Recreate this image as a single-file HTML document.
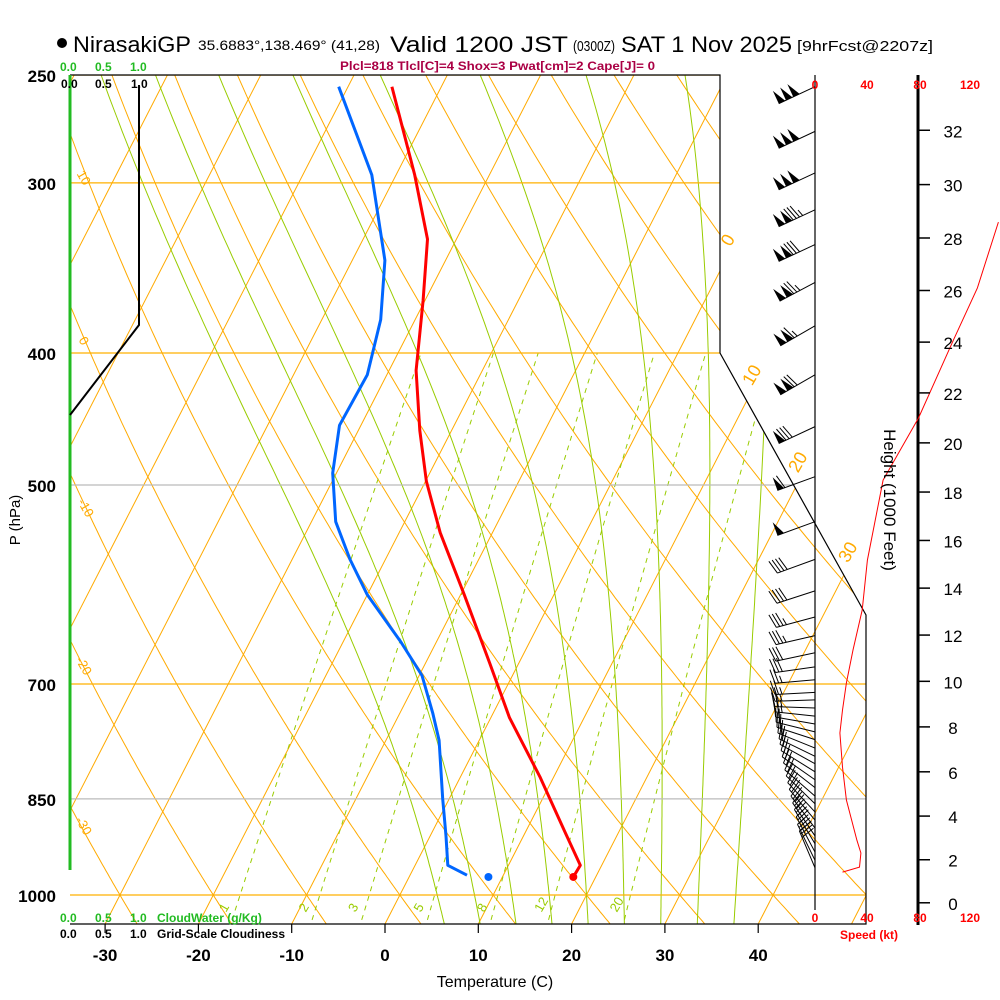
<!DOCTYPE html>
<html><head><meta charset="utf-8"><style>
html,body{margin:0;padding:0;background:#fff;}
svg{display:block;font-family:"Liberation Sans",sans-serif;}
</style></head><body>
<svg id="chart" width="1000" height="1000" viewBox="0 0 1000 1000" xmlns="http://www.w3.org/2000/svg">
<defs><clipPath id="plotClip"><polygon points="70,75 720,75 720,353 866,615 866,924 70,924"/></clipPath></defs>
<g id="grid" clip-path="url(#plotClip)"></g>
<g id="profiles" clip-path="url(#plotClip)"></g>
<g id="frame">
<polyline points="70,75 720,75 720,353 866,615 866,924 70,924" fill="none" stroke="#000" stroke-width="1.2"/>
<line x1="70" y1="75" x2="70" y2="870" stroke="#22bb22" stroke-width="3"/>
<polyline points="139,85 139,325 70,415" fill="none" stroke="#000" stroke-width="2"/>
<line x1="815" y1="75" x2="815" y2="910" stroke="#000" stroke-width="1.2"/>
<line x1="918" y1="75" x2="918" y2="925" stroke="#000" stroke-width="3"/>
</g>
<g id="barbs"></g>
<g id="speed"></g>
<g id="labels"></g>
<g>
<circle cx="62" cy="43" r="5" fill="#000"/>
<text x="73" y="52" font-size="22" textLength="118" lengthAdjust="spacingAndGlyphs">NirasakiGP</text>
<text x="198" y="50" font-size="14" textLength="182" lengthAdjust="spacingAndGlyphs">35.6883°,138.469° (41,28)</text>
<text x="390" y="52" font-size="22" textLength="178" lengthAdjust="spacingAndGlyphs">Valid 1200 JST</text>
<text x="573" y="51" font-size="15" textLength="42" lengthAdjust="spacingAndGlyphs">(0300Z)</text>
<text x="621" y="52" font-size="22" textLength="171" lengthAdjust="spacingAndGlyphs">SAT 1 Nov 2025</text>
<text x="797" y="51" font-size="15" textLength="136" lengthAdjust="spacingAndGlyphs">[9hrFcst@2207z]</text>
<text x="340" y="70" font-size="12" fill="#aa0044" font-weight="bold" textLength="315" lengthAdjust="spacingAndGlyphs">Plcl=818 Tlcl[C]=4 Shox=3 Pwat[cm]=2 Cape[J]= 0</text>
<g font-size="12" font-weight="bold" fill="#22bb22"><text x="60" y="71">0.0</text><text x="95" y="71">0.5</text><text x="130" y="71">1.0</text></g>
<g font-size="12" font-weight="bold" fill="#000"><text x="61" y="88">0.0</text><text x="95" y="88">0.5</text><text x="131" y="88">1.0</text></g>
<g font-size="12" font-weight="bold" fill="#22bb22"><text x="60" y="922">0.0</text><text x="95" y="922">0.5</text><text x="130" y="922">1.0</text><text x="157" y="922">CloudWater (g/Kg)</text></g>
<g font-size="12" font-weight="bold" fill="#000"><text x="60" y="938">0.0</text><text x="95" y="938">0.5</text><text x="130" y="938">1.0</text><text x="157" y="938">Grid-Scale Cloudiness</text></g>
<g font-size="12" font-weight="bold" fill="#ff0000" text-anchor="middle">
<text x="815" y="89">0</text><text x="867" y="89">40</text><text x="920" y="89">80</text><text x="970" y="89">120</text>
<text x="815" y="922">0</text><text x="867" y="922">40</text><text x="920" y="922">80</text><text x="970" y="922">120</text>
<text x="869" y="939">Speed (kt)</text></g>
<text x="495" y="987" font-size="16" text-anchor="middle">Temperature (C)</text>
<text transform="translate(20,520) rotate(-90)" font-size="15" text-anchor="middle">P (hPa)</text>
<text transform="translate(884,500) rotate(90)" font-size="17" text-anchor="middle">Height (1000 Feet)</text>
</g>
</svg>
<script>
// ---- data ----
const tempP = [255,296,330,366,412,456,497,542,602,676,741,820,900,951,968];
const tempT = [-45.3,-38,-33.1,-30.2,-27.1,-23.4,-19.9,-15.6,-9.6,-3.1,2.0,8.6,14.3,17.7,17.6];
const dewP = [255,296,342,378,415,452,490,532,567,602,652,690,735,770,850,905,951,967];
const dewT = [-51,-42.6,-36.5,-33.7,-32.1,-32.3,-30.4,-27.4,-23.8,-20,-13.8,-9.7,-6.5,-4.3,-0.7,1.7,3.5,6.1];
const sfcT = 17.6, sfcTd = 8.5, sfcP = 970;
const windP = [255,275,295,314,333,355,382,415,453,493,532,567,598,625,645,664,680,695,710,719,729,739,749,759,769,780,791,801,812,823,834,846,857,869,881,893,905,917,930,943,955];
const windDir = [245,245,245,245,245,242,240,240,245,250,250,250,252,255,257,258,262,265,267,268,272,276,280,284,288,292,296,299,302,305,308,311,314,317,320,323,326,329,332,334,337];
const windSpd = [150,150,150,135,130,125,115,120,80,60,50,40,40,35,35,30,30,25,25,25,25,25,22,22,22,22,22,20,20,20,20,20,20,22,22,25,25,25,25,28,30];
const spdH = [1.43,1.66,2.31,2.90,4.73,6.21,7.73,8.74,9.93,11.36,13.07,15.18,18.49,21.0,24.0,26.1,28.6];
const spdV = [21,34,35,32,24,21,19,21,24,29,36,40,52,79,105,124,140];
const pLevels = [250,300,400,500,700,850,1000];
const tTicks = [-30,-20,-10,0,10,20,30,40];
const hTicks = [0,2,4,6,8,10,12,14,16,18,20,22,24,26,28,30,32];
const mixR = [1,2,3,5,8,12,20];
const isoT = [-110,-100,-90,-80,-70,-60,-50,-40,-30,-20,-10,0,10,20,30,40,50];
const dryTh = [-40,-30,-20,-10,0,10,20,30,40,50,60,70,80,90,100,110,120,130];
const moistT = [4,8,12,16,20,24,28,32,36];

// ---- axes ----
const NS="http://www.w3.org/2000/svg";
const yP = p => 895 - 591.5*Math.log(1000/p);
const xT = (t,y) => 385 + 9.33*t + 0.513*(924-y);
const yH = h => { const z=h*304.8; const p=1013.25*Math.pow(1-6.5e-3*z/288.15,5.256); return yP(p); };
const xS = s => 815 + 1.31*s;
function mk(tag, attrs, parent){const e=document.createElementNS(NS,tag);for(const k in attrs)e.setAttribute(k,attrs[k]);parent.appendChild(e);return e;}
const grid=document.getElementById('grid'), prof=document.getElementById('profiles'), lab=document.getElementById('labels'), barbs=document.getElementById('barbs'), spd=document.getElementById('speed');
const pList=[]; for(let p=1060;p>=245;p-=5)pList.push(p);

// isotherms
isoT.forEach(t=>{const y1=924,y2=60;
 const l=mk('line',{x1:xT(t,y1),y1:y1,x2:xT(t,y2),y2:y2,stroke:'#ffaa00','stroke-width':1},grid);
 
 });
// dry adiabats
dryTh.forEach(th=>{const pts=pList.map(p=>{const T=(th+273.15)*Math.pow(p/1000,0.286)-273.15;const y=yP(p);return xT(T,y).toFixed(1)+','+y.toFixed(1);});
 const l=mk('polyline',{points:pts.join(' '),fill:'none',stroke:'#ffaa00','stroke-width':1},grid);
 
 });
// moist adiabats
function es(tc){return 6.112*Math.exp(17.67*tc/(tc+243.5));}
moistT.forEach(t0=>{let T=t0+273.15,p=1000;const up=[],dn=[];
 const step=(T,p,dp)=>{const e=es(T-273.15),rs=0.622*e/(p-e);const g=(287*T+2.5e6*rs)/(1004+2.5e6*2.5e6*rs*0.622/(287*T*T))/p;return T+g*dp;};
 let Tt=T;for(p=1000;p>=250;p-=5){up.push([p,Tt]);Tt=step(Tt,p,-5);}
 Tt=T;for(p=1000;p<=1060;p+=5){dn.unshift([p,Tt]);Tt=step(Tt,p,5);}
 const pts=dn.concat(up.slice(1)).map(([p,T])=>{const y=yP(p);return xT(T-273.15,y).toFixed(1)+','+y.toFixed(1);});
 const l=mk('polyline',{points:pts.join(' '),fill:'none',stroke:'#99cc00','stroke-width':1},grid);
 
 });
// mixing ratio
mixR.forEach(w=>{const pts=[];for(let p=1060;p>=400;p-=10){const e=w*p/(622+w);const a=Math.log(e/6.112);const td=243.5*a/(17.67-a);const y=yP(p);pts.push(xT(td,y).toFixed(1)+','+y.toFixed(1));}
 const l=mk('polyline',{points:pts.join(' '),fill:'none',stroke:'#99cc00','stroke-width':1,'stroke-dasharray':'5,5'},grid);
 
 
 const p=1010,e=w*p/(622+w),a=Math.log(e/6.112),td=243.5*a/(17.67-a),y=yP(p)+12;
 const tx=mk('text',{x:xT(td,y)-6,y:y,'font-size':13,fill:'#99cc00',transform:`rotate(-60 ${xT(td,y)-6} ${y})`},grid);tx.textContent=w;
 
 });
// pressure lines
pLevels.forEach(p=>{const y=yP(p);const c=(p==500||p==850)?'#bbbbbb':'#ffb000';
 const l=mk('line',{x1:70,y1:y,x2:870,y2:y,stroke:c,'stroke-width':1.2},grid);
 
 
 const t=mk('text',{x:56,y:y+7,'font-size':17,'font-weight':'bold','text-anchor':'end'},lab);t.textContent=p;
 
 });
tTicks.forEach(t=>{const x=xT(t,924);
 const l=mk('line',{x1:x,y1:924,x2:x,y2:933,stroke:'#000','stroke-width':1.2},lab);
 
 
 const tx=mk('text',{x:x,y:961,'font-size':17,'font-weight':'bold','text-anchor':'middle'},lab);tx.textContent=t;
 
 });
hTicks.forEach(h=>{const y=yH(h);
 const l=mk('line',{x1:918,y1:y,x2:930,y2:y,stroke:'#000','stroke-width':1.5},lab);
 
 
 const tx=mk('text',{x:953,y:y+7,'font-size':17,'text-anchor':'middle'},lab);tx.textContent=h;
 
 });
// orange labels
[[733,243,'0'],[757,378,'10'],[803,465,'20'],[853,555,'30']].forEach(([x,y,s])=>{const t=mk('text',{x:x,y:y,'font-size':18,fill:'#ffaa00','text-anchor':'middle',transform:`rotate(-60 ${x} ${y})`},lab);t.textContent=s;
 
 });
[[80,180,'10'],[80,343,'0'],[82,510,'-10'],[80,668,'-20'],[80,828,'-30']].forEach(([x,y,s])=>{const t=mk('text',{x:x,y:y,'font-size':13,fill:'#ffaa00','text-anchor':'middle',transform:`rotate(60 ${x} ${y})`},lab);t.textContent=s;
 
 });
// profiles
function prPts(P,T){return P.map((p,i)=>{const y=yP(p);return xT(T[i],y).toFixed(1)+','+y.toFixed(1);}).join(' ');}
let e1=mk('polyline',{points:prPts(tempP,tempT),fill:'none',stroke:'#ff0000','stroke-width':3,'stroke-linejoin':'round'},prof);


let e2=mk('polyline',{points:prPts(dewP,dewT),fill:'none',stroke:'#0066ff','stroke-width':3,'stroke-linejoin':'round'},prof);


let ys=yP(sfcP);
let d1=mk('circle',{cx:xT(sfcT,ys),cy:ys,r:4,fill:'#ff0000'},prof);


let d2=mk('circle',{cx:xT(sfcTd,ys),cy:ys,r:4,fill:'#0066ff'},prof);


// wind barbs
windP.forEach((p,i)=>{const y=yP(p),th=windDir[i]*Math.PI/180,L=40;
 const dx=Math.sin(th),dy=-Math.cos(th);const px=-dy,py=dx;
 const g=mk('g',{},barbs);
 
 
 const tx=815+dx*L,ty=y+dy*L;
 mk('line',{x1:815,y1:y,x2:tx,y2:ty,stroke:'#000','stroke-width':1},g);
 let s=Math.round(windSpd[i]/5)*5,pos=0;
 const pt=o=>[tx-dx*o,ty-dy*o];
 while(s>=50){const a=pt(pos),b=pt(pos+7);mk('polygon',{points:`${a[0]},${a[1]} ${b[0]},${b[1]} ${a[0]+px*14},${a[1]+py*14}`,fill:'#000'},g);pos+=8;s-=50;}
 while(s>=10){const a=pt(pos);mk('line',{x1:a[0],y1:a[1],x2:a[0]+px*14+dx*4,y2:a[1]+py*14+dy*4,stroke:'#000','stroke-width':1},g);pos+=3.5;s-=10;}
 if(s>=5){const a=pt(pos);mk('line',{x1:a[0],y1:a[1],x2:a[0]+px*7+dx*2,y2:a[1]+py*7+dy*2,stroke:'#000','stroke-width':1},g);}
});
// speed profile
let sp=mk('polyline',{points:spdH.map((h,i)=>xS(spdV[i]).toFixed(1)+','+yH(h).toFixed(1)).join(' '),fill:'none',stroke:'#ff0000','stroke-width':1},spd);


</script>
</body></html>
